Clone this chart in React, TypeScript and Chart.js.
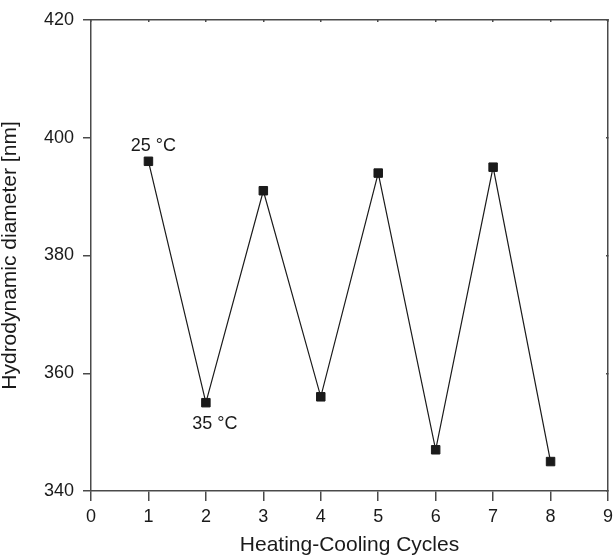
import React, { useEffect, useRef } from 'react';
import { Chart, registerables } from 'chart.js';

Chart.register(...registerables);

// ---- data ----
const cycles: number[] = [1, 2, 3, 4, 5, 6, 7, 8];
const diameters: number[] = [396, 355, 391, 356, 394, 347, 395, 345];
const xTickValues: number[] = [0, 1, 2, 3, 4, 5, 6, 7, 8, 9];
const yTickValues: number[] = [340, 360, 380, 400, 420];
const annotationTexts: string[] = ['25 °C', '35 °C'];
const annotationPointIndex: number[] = [0, 1];
const xTitle = 'Heating-Cooling Cycles';
const yTitle = 'Hydrodynamic diameter [nm]';

const FONT = "'Liberation Sans', Arial, Helvetica, sans-serif";
const AXIS_COLOR = '#4a4a4a';
const INK = '#1a1a1a';

const annotationPlugin = {
  id: 'tempLabels',
  afterDatasetsDraw(chart: any) {
    const { ctx, scales } = chart;
    const xs = scales.x;
    const ys = scales.y;
    const offsets = [
      { dx: 5, dy: -15 },
      { dx: 9, dy: 21 },
    ];
    ctx.save();
    ctx.font = `18px ${FONT}`;
    ctx.fillStyle = INK;
    ctx.textAlign = 'center';
    ctx.textBaseline = 'middle';
    annotationTexts.forEach((t, i) => {
      const idx = annotationPointIndex[i];
      const px = xs.getPixelForValue(cycles[idx]) + offsets[i].dx;
      const py = ys.getPixelForValue(diameters[idx]) + offsets[i].dy;
      ctx.fillText(t, px, py);
    });
    ctx.restore();
  },
};

export default function App() {
  const canvasRef = useRef<HTMLCanvasElement | null>(null);

  useEffect(() => {
    if (!canvasRef.current) return;
    const chart = new Chart(canvasRef.current, {
      type: 'line',
      data: {
        datasets: [
          {
            data: cycles.map((c, i) => ({ x: c, y: diameters[i] })),
            borderColor: INK,
            borderWidth: 1.2,
            backgroundColor: INK,
            pointStyle: 'rect',
            pointRadius: 6,
            pointBorderWidth: 1,
            pointBorderColor: INK,
            pointBackgroundColor: INK,
            tension: 0,
            fill: false,
          },
        ],
      },
      options: {
        responsive: false,
        animation: false,
        events: [],
        layout: { padding: { top: 20, right: 3, left: 0, bottom: 0 } },
        plugins: {
          legend: { display: false },
          tooltip: { enabled: false },
          title: { display: false },
        },
        scales: {
          x: {
            type: 'linear',
            position: 'bottom',
            min: 0,
            max: 9,
            afterBuildTicks: (s: any) => {
              s.ticks = xTickValues.map((v) => ({ value: v }));
            },
            afterFit: (s: any) => {
              s.height = 66;
              s.paddingRight = 0;
              s.paddingLeft = 0;
            },
            grid: {
              drawOnChartArea: false,
              drawTicks: true,
              tickLength: 10,
              color: AXIS_COLOR,
              lineWidth: 1.5,
            },
            border: { display: true, color: AXIS_COLOR, width: 1.5 },
            ticks: {
              color: INK,
              font: { family: FONT, size: 18 },
              padding: 5,
              maxRotation: 0,
              autoSkip: false,
            },
            title: {
              display: true,
              text: xTitle,
              color: INK,
              font: { family: FONT, size: 21, lineHeight: 1 },
              padding: { top: 0, bottom: 1 },
            },
          },
          y: {
            type: 'linear',
            position: 'left',
            min: 340,
            max: 420,
            afterBuildTicks: (s: any) => {
              s.ticks = yTickValues.map((v) => ({ value: v }));
            },
            afterFit: (s: any) => {
              s.width = 91;
            },
            grid: {
              drawOnChartArea: false,
              drawTicks: true,
              tickLength: 8,
              color: AXIS_COLOR,
              lineWidth: 1.5,
            },
            border: { display: true, color: AXIS_COLOR, width: 1.5 },
            ticks: {
              color: INK,
              font: { family: FONT, size: 18 },
              padding: 9,
              autoSkip: false,
            },
            title: {
              display: true,
              text: yTitle,
              color: INK,
              font: { family: FONT, size: 21, lineHeight: 1 },
              padding: { top: 0, bottom: 0 },
            },
          },
          x2: {
            type: 'linear',
            position: 'top',
            min: 0,
            max: 9,
            afterBuildTicks: (s: any) => {
              s.ticks = xTickValues.map((v) => ({ value: v }));
            },
            afterFit: (s: any) => {
              s.height = 0;
              s.paddingRight = 0;
              s.paddingLeft = 0;
            },
            grid: {
              drawOnChartArea: false,
              drawTicks: true,
              tickLength: -2,
              color: AXIS_COLOR,
              lineWidth: 1.5,
            },
            border: { display: true, color: AXIS_COLOR, width: 1.5 },
            ticks: { display: false },
          },
          y2: {
            type: 'linear',
            position: 'right',
            min: 340,
            max: 420,
            afterBuildTicks: (s: any) => {
              s.ticks = yTickValues.map((v) => ({ value: v }));
            },
            afterFit: (s: any) => {
              s.width = 0;
              s.paddingTop = 0;
              s.paddingBottom = 0;
            },
            grid: {
              drawOnChartArea: false,
              drawTicks: true,
              tickLength: -2,
              color: AXIS_COLOR,
              lineWidth: 1.5,
            },
            border: { display: true, color: AXIS_COLOR, width: 1.5 },
            ticks: { display: false },
          },
        },
      } as any,
      plugins: [annotationPlugin],
    });
    return () => chart.destroy();
  }, []);

  return (
    <div style={{ position: 'absolute', left: 0, top: 0, width: 615, height: 557, background: '#fff' }}>
      <canvas ref={canvasRef} width={615} height={557} />
    </div>
  );
}
